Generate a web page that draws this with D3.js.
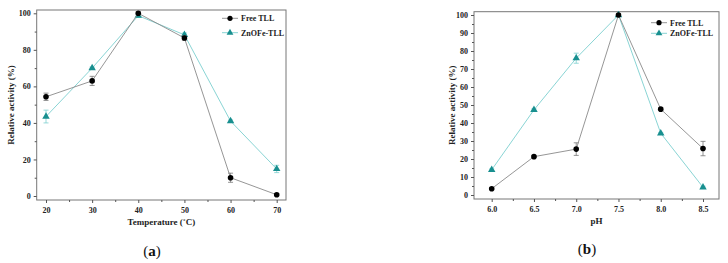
<!DOCTYPE html>
<html><head><meta charset="utf-8">
<script src="https://cdn.jsdelivr.net/npm/d3@7"></script>
<style>body{margin:0;background:#fff}svg{display:block}text{font-family:"Liberation Serif","Times New Roman",serif}</style>
</head><body><svg id="c" width="728" height="263"></svg>
<script>
// Panel (a): temperature
const tempX = [20, 30, 40, 50, 60, 70];
const tempFree = [54.3, 63.0, 100.0, 86.5, 10.0, 0.7];
const tempFreeErr = [2.0, 2.5, 0.8, 1.2, 2.5, 0.5];
const tempZn = [43.5, 70.0, 98.7, 88.2, 41.0, 14.8];
const tempZnErr = [3.5, 0.6, 1.0, 1.0, 0.6, 2.0];
const tempYTicks = [0, 20, 40, 60, 80, 100];
// Panel (b): pH
const phX = [6.0, 6.5, 7.0, 7.5, 8.0, 8.5];
const phFree = [3.5, 21.3, 25.5, 100.0, 47.7, 25.8];
const phFreeErr = [0.4, 0.5, 3.5, 0.5, 0.6, 4.0];
const phZn = [14.0, 47.3, 76.0, 100.0, 34.3, 4.3];
const phZnErr = [0.5, 0.6, 2.8, 0.5, 0.5, 0.6];
const phYTicks = [0,10,20,30,40,50,60,70,80,90,100];
const seriesNames = ["Free TLL", "ZnOFe-TLL"];

const svg = d3.select("#c");
const TEAL = "#188f8f", TEAL_L = "#7ccfcf", GREY = "#8a8a8a";

function panel(o){
  const g = svg.append("g");
  const x = d3.scaleLinear().domain(o.xDom).range(o.xR);
  const y = d3.scaleLinear().domain([0,100]).range(o.yR);
  g.append("rect").attr("x",o.frame[0]).attr("y",o.frame[1])
   .attr("width",o.frame[2]-o.frame[0]).attr("height",o.frame[3]-o.frame[1])
   .attr("fill","none").attr("stroke","#777").attr("stroke-width",1);
  const xa = g.append("g").attr("transform",`translate(0,${o.frame[3]})`)
    .call(d3.axisBottom(x).tickValues(o.xs).tickFormat(o.xfmt).tickSize(3).tickPadding(4));
  xa.append("g").call(d3.axisBottom(x).tickValues(o.xMinor).tickFormat("").tickSize(2));
  xa.selectAll(".domain").remove();
  const ya = g.append("g").attr("transform",`translate(${o.frame[0]},0)`)
    .call(d3.axisLeft(y).tickValues(o.yTicks).tickSize(3).tickPadding(3));
  ya.append("g").call(d3.axisLeft(y).tickValues(o.yMinor).tickFormat("").tickSize(2));
  ya.selectAll(".domain").remove();
  g.selectAll(".tick line").attr("stroke","#555");
  g.selectAll(".tick text").attr("font-size",8).attr("font-weight","bold").attr("fill","#222")
    .style("font-family","'Liberation Serif',serif");
  g.append("text").attr("x",(o.frame[0]+o.frame[2])/2).attr("y",o.xtY).attr("text-anchor","middle")
    .attr("font-size",9).attr("font-weight","bold").attr("fill","#222").text(o.xtitle);
  g.append("text").attr("transform",`translate(${o.ytX},${(o.frame[1]+o.frame[3])/2}) rotate(-90)`)
    .attr("text-anchor","middle").attr("font-size",9).attr("font-weight","bold").attr("fill","#222").text("Relative activity (%)");
  g.append("text").attr("x",o.labX).attr("y",o.labY).attr("text-anchor","middle").attr("font-size",15).attr("fill","#111")
    .html(`(<tspan font-weight="bold">${o.lab}</tspan>)`);
  const line = d3.line().x(d=>x(d[0])).y(d=>y(d[1]));
  const series = [
    {v:o.free, e:o.freeErr, lc:GREY, mc:"#000", ec:"#777", shape:"c"},
    {v:o.zn, e:o.znErr, lc:TEAL_L, mc:TEAL, ec:TEAL_L, shape:"t"}
  ];
  const draw = (s)=>{
    const pts = o.xs.map((xv,i)=>[xv,s.v[i],s.e[i]]);
    g.append("path").datum(pts).attr("d",line).attr("fill","none").attr("stroke",s.lc).attr("stroke-width",0.9);
    pts.forEach(p=>{
      const cx=x(p[0]), y1=y(p[1]-p[2]), y2=y(p[1]+p[2]);
      g.append("line").attr("x1",cx).attr("x2",cx).attr("y1",y1).attr("y2",y2).attr("stroke",s.ec).attr("stroke-width",0.8);
      [y1,y2].forEach(yy=>g.append("line").attr("x1",cx-2.5).attr("x2",cx+2.5).attr("y1",yy).attr("y2",yy).attr("stroke",s.ec).attr("stroke-width",0.8));
    });
    pts.forEach(p=>{
      if(s.shape==="c") g.append("circle").attr("cx",x(p[0])).attr("cy",y(p[1])).attr("r",2.8).attr("fill",s.mc);
      else g.append("path").attr("transform",`translate(${x(p[0])},${y(p[1])})`)
        .attr("d",d3.symbol(d3.symbolTriangle,24)()).attr("fill",s.mc);
    });
  };
  draw(series[1]); draw(series[0]);
  seriesNames.forEach((n,i)=>{
    const s=series[i], ly=o.leg[1]+i*o.legGap;
    g.append("line").attr("x1",o.leg[0]).attr("x2",o.leg[0]+16).attr("y1",ly).attr("y2",ly).attr("stroke",s.lc).attr("stroke-width",0.9);
    const mx=o.leg[0]+8;
    if(s.shape==="c") g.append("circle").attr("cx",mx).attr("cy",ly).attr("r",2.6).attr("fill",s.mc);
    else g.append("path").attr("transform",`translate(${mx},${ly})`).attr("d",d3.symbol(d3.symbolTriangle,20)()).attr("fill",s.mc);
    g.append("text").attr("x",o.leg[0]+19).attr("y",ly+3).attr("font-size",8).attr("font-weight","bold").attr("fill","#222").text(n);
  });
}

panel({xDom:[20,70], xR:[46,276.7], yR:[196,13.3], frame:[36.7,10,286,200],
  xs:tempX, xMinor:[25,35,45,55,65], xfmt:d3.format("d"),
  yTicks:tempYTicks, yMinor:[10,30,50,70,90],
  free:tempFree, freeErr:tempFreeErr, zn:tempZn, znErr:tempZnErr,
  xtitle:"Temperature (\u02DAC)", xtY:225, ytX:14, lab:"a", labX:152, labY:256,
  leg:[222,18.3], legGap:14.4});

panel({xDom:[6.0,8.5], xR:[491.7,703], yR:[195,15], frame:[474,11.7,719,199],
  xs:phX, xMinor:[6.25,6.75,7.25,7.75,8.25], xfmt:d3.format(".1f"),
  yTicks:phYTicks, yMinor:[5,15,25,35,45,55,65,75,85,95],
  free:phFree, freeErr:phFreeErr, zn:phZn, znErr:phZnErr,
  xtitle:"pH", xtY:224, ytX:455, lab:"b", labX:587, labY:254,
  leg:[651,22.7], legGap:10.6});
</script></body></html>
